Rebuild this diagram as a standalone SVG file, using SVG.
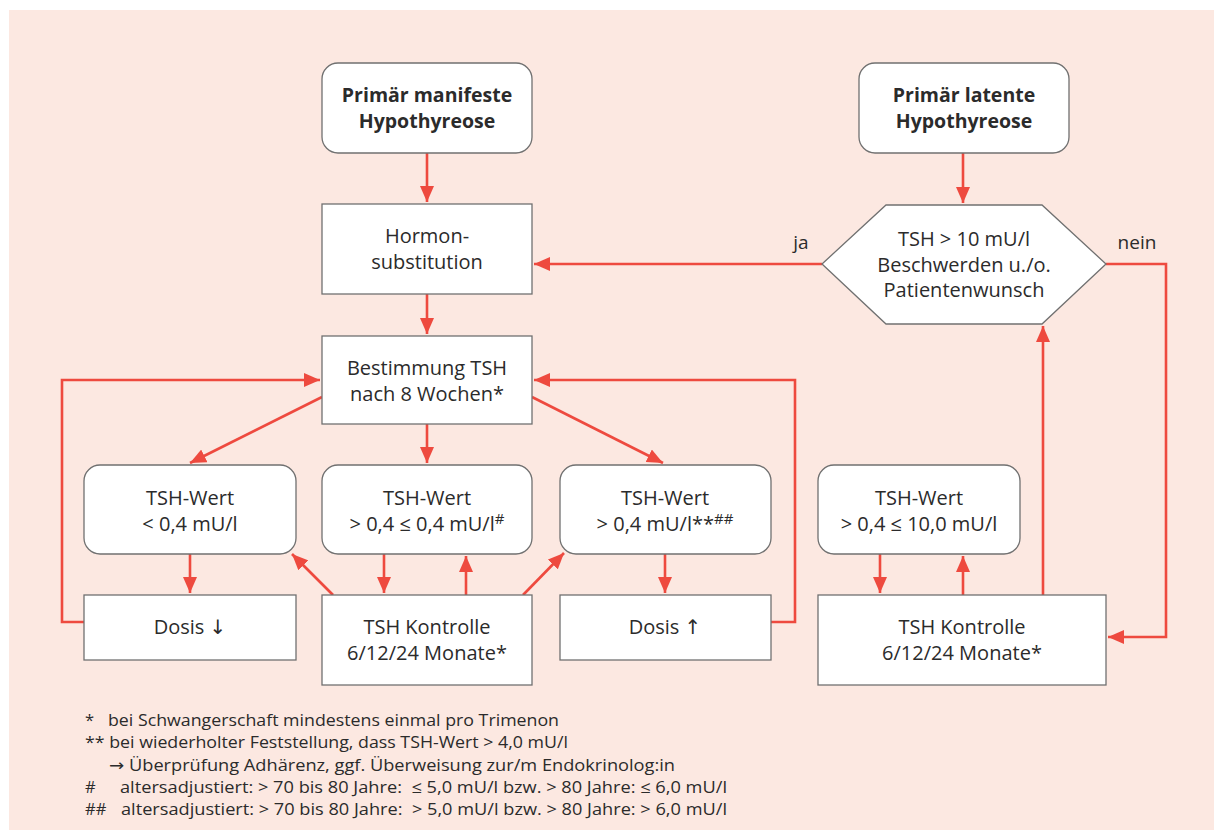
<svg xmlns="http://www.w3.org/2000/svg" width="1214" height="830" viewBox="0 0 1214 830">
<defs>
<style>
.bg{fill:#fce8e1}
.box{fill:#ffffff;stroke:#707070;stroke-width:1.3}
.t{font-family:"Open Sans","Noto Sans",sans-serif;font-size:20px;fill:#2b2b2b;text-anchor:middle}
.b{font-weight:bold;font-size:19.5px}
.fn{font-family:"Open Sans","Noto Sans",sans-serif;font-size:16.5px;fill:#2b2b2b}
.c{fill:none;stroke:#ee4a3f;stroke-width:2.6}
.lbl{font-family:"Open Sans","Noto Sans",sans-serif;font-size:19px;fill:#2b2b2b;text-anchor:middle}
.ar{font-family:"DejaVu Sans",sans-serif}
</style>
<marker id="ah" markerUnits="userSpaceOnUse" markerWidth="16" markerHeight="14" viewBox="0 0 16 14" refX="16" refY="7" orient="auto">
<path d="M0,0 L16,7 L0,14 Z" fill="#ee4a3f"/>
</marker>
</defs>
<rect x="0" y="0" width="1214" height="830" fill="#ffffff"/>
<rect class="bg" x="9" y="10" width="1205" height="820"/>

<g id="connectors">
<path class="c" d="M427,153 V202" marker-end="url(#ah)"/>
<path class="c" d="M963,153 V203" marker-end="url(#ah)"/>
<path class="c" d="M822,264 H534" marker-end="url(#ah)"/>
<path class="c" d="M1106,264 H1166 V637 H1108" marker-end="url(#ah)"/>
<path class="c" d="M1043,595 V326" marker-end="url(#ah)"/>
<path class="c" d="M427,294 V334" marker-end="url(#ah)"/>
<path class="c" d="M322,397 L190,463" marker-end="url(#ah)"/>
<path class="c" d="M427,424 V463" marker-end="url(#ah)"/>
<path class="c" d="M532,397 L663,463" marker-end="url(#ah)"/>
<path class="c" d="M84,622 H62 V380 H320" marker-end="url(#ah)"/>
<path class="c" d="M771,622 H795 V380 H534" marker-end="url(#ah)"/>
<path class="c" d="M190,554 V593" marker-end="url(#ah)"/>
<path class="c" d="M384,554 V593" marker-end="url(#ah)"/>
<path class="c" d="M466,595 V556" marker-end="url(#ah)"/>
<path class="c" d="M333,595 L292,554" marker-end="url(#ah)"/>
<path class="c" d="M523,595 L564,553" marker-end="url(#ah)"/>
<path class="c" d="M665,554 V593" marker-end="url(#ah)"/>
<path class="c" d="M880,554 V593" marker-end="url(#ah)"/>
<path class="c" d="M963,595 V556" marker-end="url(#ah)"/>
<text class="lbl" x="801" y="249">ja</text>
<text class="lbl" x="1137" y="249">nein</text>
</g>

<g id="n-manifest">
<rect class="box" x="322" y="63" width="210" height="90" rx="16"/>
<text class="t b" x="427" y="102">Primär manifeste</text>
<text class="t b" x="427" y="128">Hypothyreose</text>
</g>
<g id="n-latent">
<rect class="box" x="859" y="63" width="210" height="90" rx="16"/>
<text class="t b" x="964" y="102">Primär latente</text>
<text class="t b" x="964" y="128">Hypothyreose</text>
</g>
<g id="n-hormon">
<rect class="box" x="322" y="204" width="210" height="90"/>
<text class="t" x="427" y="243">Hormon-</text>
<text class="t" x="427" y="269">substitution</text>
</g>
<g id="n-hex">
<polygon class="box" points="822,264 886,205 1042,205 1106,264 1042,324 886,324"/>
<text class="t" x="964" y="246">TSH &gt; 10 mU/l</text>
<text class="t" x="964" y="272">Beschwerden u./o.</text>
<text class="t" x="964" y="297">Patientenwunsch</text>
</g>
<g id="n-bestimmung">
<rect class="box" x="322" y="336" width="210" height="88"/>
<text class="t" x="427" y="375">Bestimmung TSH</text>
<text class="t" x="427" y="401">nach 8 Wochen*</text>
</g>
<g id="n-wert1">
<rect class="box" x="84" y="465" width="212" height="89" rx="16"/>
<text class="t" x="190" y="505">TSH-Wert</text>
<text class="t" x="190" y="531">&lt; 0,4 mU/l</text>
</g>
<g id="n-wert2">
<rect class="box" x="322" y="465" width="210" height="89" rx="16"/>
<text class="t" x="427" y="505">TSH-Wert</text>
<text class="t" x="427" y="531">&gt; 0,4 ≤ 0,4 mU/l<tspan font-size="15" dy="-7">#</tspan></text>
</g>
<g id="n-wert3">
<rect class="box" x="560" y="465" width="211" height="89" rx="16"/>
<text class="t" x="665" y="505">TSH-Wert</text>
<text class="t" x="665" y="531">&gt; 0,4 mU/l**<tspan font-size="15" dy="-7">##</tspan></text>
</g>
<g id="n-wert4">
<rect class="box" x="818" y="465" width="202" height="89" rx="16"/>
<text class="t" x="919" y="505">TSH-Wert</text>
<text class="t" x="919" y="531">&gt; 0,4 ≤ 10,0 mU/l</text>
</g>
<g id="n-dosis-down">
<rect class="box" x="84" y="595" width="212" height="65"/>
<text class="t" x="190" y="634">Dosis <tspan class="ar">↓</tspan></text>
</g>
<g id="n-kontrolle1">
<rect class="box" x="322" y="595" width="210" height="90"/>
<text class="t" x="427" y="634">TSH Kontrolle</text>
<text class="t" x="427" y="660">6/12/24 Monate*</text>
</g>
<g id="n-dosis-up">
<rect class="box" x="560" y="595" width="211" height="65"/>
<text class="t" x="665" y="634">Dosis <tspan class="ar">↑</tspan></text>
</g>
<g id="n-kontrolle2">
<rect class="box" x="818" y="595" width="288" height="90"/>
<text class="t" x="962" y="634">TSH Kontrolle</text>
<text class="t" x="962" y="660">6/12/24 Monate*</text>
</g>

<g id="footnotes">
<text class="fn" x="85" y="726">*</text>
<text class="fn" x="108" y="726" textLength="451" lengthAdjust="spacingAndGlyphs">bei Schwangerschaft mindestens einmal pro Trimenon</text>
<text class="fn" x="85" y="748" textLength="483" lengthAdjust="spacingAndGlyphs">** bei wiederholter Feststellung, dass TSH-Wert &gt; 4,0 mU/l</text>
<text class="fn" x="109" y="771" textLength="566" lengthAdjust="spacingAndGlyphs"><tspan class="ar">→</tspan> Überprüfung Adhärenz, ggf. Überweisung zur/m Endokrinolog:in</text>
<text class="fn" x="85" y="793">#</text>
<text class="fn" x="120" y="793" xml:space="preserve" textLength="607" lengthAdjust="spacingAndGlyphs">altersadjustiert: &gt; 70 bis 80 Jahre:  ≤ 5,0 mU/l bzw. &gt; 80 Jahre: ≤ 6,0 mU/l</text>
<text class="fn" x="85" y="815">##</text>
<text class="fn" x="121" y="815" xml:space="preserve" textLength="606" lengthAdjust="spacingAndGlyphs">altersadjustiert: &gt; 70 bis 80 Jahre:  &gt; 5,0 mU/l bzw. &gt; 80 Jahre: &gt; 6,0 mU/l</text>
</g>
</svg>
